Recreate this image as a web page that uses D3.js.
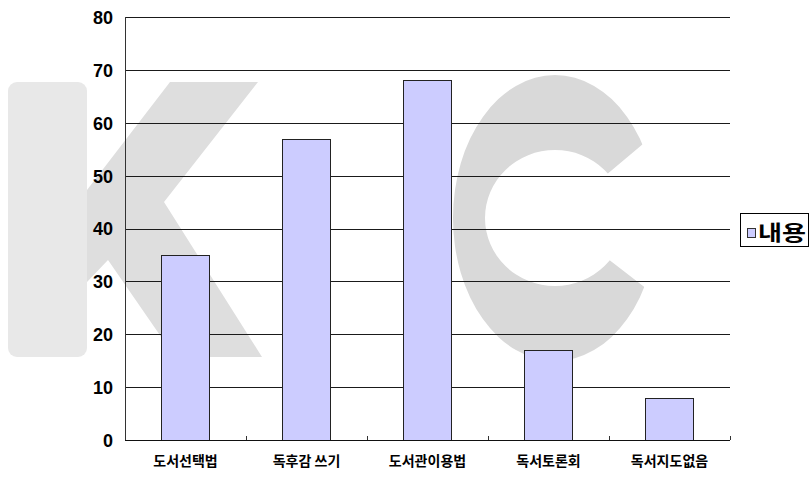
<!DOCTYPE html>
<html>
<head>
<meta charset="utf-8">
<script src="https://cdn.jsdelivr.net/npm/d3@7"></script>
<style>
  body { margin: 0; background: #fff; }
  svg { display: block; }
  .y-axis text { font-family: "Liberation Sans", Arial, sans-serif; font-weight: bold; font-size: 18px; fill: #000; }
  .x-axis text { font-family: "Noto Sans CJK KR", sans-serif; font-weight: bold; font-size: 14px; fill: #000; }
  .legend text { font-family: "Noto Sans CJK KR", sans-serif; font-weight: bold; font-size: 21px; fill: #000; }
</style>
</head>
<body>
<div id="chart-area"><svg></svg></div>
<script>
const chartSize = { width: 811, height: 477 };
const margin = { left: 125, right: 81, top: 17, bottom: 37 };
const width = chartSize.width - (margin.left + margin.right);
const height = chartSize.height - (margin.top + margin.bottom);

const categories = ["도서선택법", "독후감 쓰기", "도서관이용법", "독서토론회", "독서지도없음"];
const values = [35, 57, 68, 17, 8];
const seriesName = "내용";
const yTicks = [0, 10, 20, 30, 40, 50, 60, 70, 80];

const barFill = "#ccccff";

const drawWatermark = svg => {
  const wm = svg.append("g").attr("class", "watermark");

  // K
  wm.append("rect")
    .attr("x", 8).attr("y", 82)
    .attr("width", 79).attr("height", 275)
    .attr("rx", 9)
    .attr("fill", "#e8e8e8");
  wm.append("polygon")
    .attr("points", "87,190 170,82 258,82 164,202 262,357 175,357 108,260 87,282")
    .attr("fill", "#dedede");

  // C
  const cx = 555, cy = 218;
  svg.append("clipPath").attr("id", "c-cut")
    .append("polygon")
    .attr("points", `${cx},${cy} 700,96 700,0 400,0 400,477 700,477 700,330`);
  const ring =
    `M${cx - 102},${cy} a102,143 0 1,0 204,0 a102,143 0 1,0 -204,0 Z ` +
    `M${cx - 70},${cy} a70,68 0 1,0 140,0 a70,68 0 1,0 -140,0 Z`;
  wm.append("path")
    .attr("d", ring)
    .attr("fill-rule", "evenodd")
    .attr("fill", "#d9d9d9")
    .attr("clip-path", "url(#c-cut)");
};

const drawChart = () => {
  const svg = d3.select("#chart-area svg")
    .attr("width", chartSize.width)
    .attr("height", chartSize.height);

  drawWatermark(svg);

  const xScale = d3.scaleBand()
    .domain(categories)
    .range([0, width])
    .paddingInner(0.6)
    .paddingOuter(0.3);

  const yScale = d3.scaleLinear()
    .domain([0, 80])
    .range([height, 0]);

  const g = svg.append("g")
    .attr("transform", `translate(${margin.left}, ${margin.top})`);

  // gridlines
  g.append("g")
    .attr("class", "grid")
    .selectAll("line")
    .data(yTicks.filter(d => d > 0))
    .enter()
    .append("line")
    .attr("x1", 0)
    .attr("x2", width)
    .attr("y1", d => Math.round(yScale(d)) + 0.5)
    .attr("y2", d => Math.round(yScale(d)) + 0.5)
    .attr("stroke", "#1a1a1a")
    .attr("stroke-width", 1);

  // y axis
  const yAxis = d3.axisLeft(yScale).tickValues(yTicks).tickSize(0).tickPadding(12);
  const yG = g.append("g").attr("class", "y-axis").call(yAxis);
  yG.select(".domain").remove();
  yG.selectAll("text").attr("dy", "0.36em");

  g.append("line")
    .attr("x1", 0.5).attr("x2", 0.5)
    .attr("y1", 0).attr("y2", height)
    .attr("stroke", "#333");

  // bars
  g.selectAll("rect.bar")
    .data(values)
    .enter()
    .append("rect")
    .attr("class", "bar")
    .attr("x", (d, i) => Math.round(xScale(categories[i])) + 0.5)
    .attr("y", d => Math.round(yScale(d)) + 0.5)
    .attr("width", Math.round(xScale.bandwidth()))
    .attr("height", d => Math.round(yScale(0)) - Math.round(yScale(d)))
    .attr("fill", barFill)
    .attr("stroke", "#222")
    .attr("stroke-width", 1);

  // x axis
  const xAxis = d3.axisBottom(xScale).tickSize(0).tickPadding(16);
  const xG = g.append("g")
    .attr("class", "x-axis")
    .attr("transform", `translate(0, ${height})`)
    .call(xAxis);
  xG.select(".domain").remove();

  g.append("line")
    .attr("x1", 0).attr("x2", width)
    .attr("y1", height + 0.5).attr("y2", height + 0.5)
    .attr("stroke", "#111");

  const step = xScale.step();
  g.append("g")
    .selectAll("line")
    .data(categories)
    .enter()
    .append("line")
    .attr("x1", (d, i) => Math.round((i + 1) * step) + 0.5)
    .attr("x2", (d, i) => Math.round((i + 1) * step) + 0.5)
    .attr("y1", height - 4)
    .attr("y2", height)
    .attr("stroke", "#333");

  // legend
  const legend = svg.append("g").attr("class", "legend")
    .attr("transform", "translate(740, 213)");
  legend.append("rect")
    .attr("x", 0.5).attr("y", 0.5)
    .attr("width", 68).attr("height", 33)
    .attr("fill", "#fff")
    .attr("stroke", "#000");
  legend.append("rect")
    .attr("x", 7.5).attr("y", 15.5)
    .attr("width", 8).attr("height", 9)
    .attr("fill", barFill)
    .attr("stroke", "#333");
  legend.append("text")
    .attr("x", 18)
    .attr("y", 27)
    .attr("textLength", 48)
    .attr("lengthAdjust", "spacingAndGlyphs")
    .text(seriesName);
};

window.onload = drawChart;
</script>
</body>
</html>
